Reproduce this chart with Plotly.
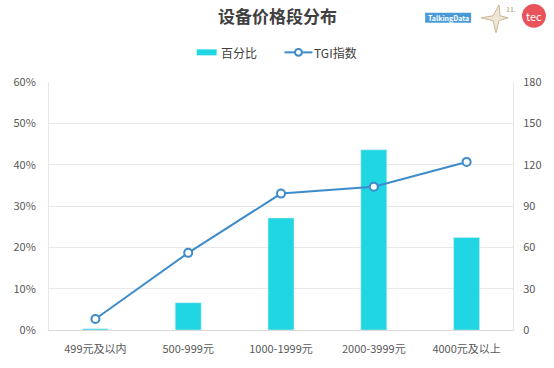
import plotly.graph_objects as go

categories = ["499元及以内", "500-999元", "1000-1999元", "2000-3999元", "4000元及以上"]
share_pct = [0.003, 0.066, 0.271, 0.436, 0.224]
tgi = [8, 56, 99, 104, 122]
left_ticks = [0, 0.1, 0.2, 0.3, 0.4, 0.5, 0.6]
right_ticks = [0, 30, 60, 90, 120, 150, 180]

W, H = 554, 368
L, R, T, B = 49, 40, 82, 35
PW, PH = W - L - R, H - T - B

def px(x):
    return (x - L) / PW

def py(y):
    return (H - B - y) / PH

BAR_C = "#1fd6e2"
LINE_C = "#3d8bcb"
FONT = "Noto Sans CJK SC, Noto Sans, sans-serif"

fig = go.Figure()
fig.add_trace(go.Bar(x=categories, y=share_pct, name="百分比", marker_color=BAR_C,
                     width=0.28, yaxis="y"))
fig.add_trace(go.Scatter(x=categories, y=tgi, name="TGI指数", mode="lines+markers",
                         line=dict(color=LINE_C, width=2),
                         marker=dict(symbol="circle", size=8, color="white",
                                     line=dict(color=LINE_C, width=2)),
                         yaxis="y2"))

shapes = []
annotations = []
# custom legend
shapes.append(dict(type="rect", xref="paper", yref="paper",
                   x0=px(197), x1=px(217), y0=py(55), y1=py(49),
                   fillcolor=BAR_C, line=dict(width=0)))
annotations.append(dict(text="百分比", xref="paper", yref="paper", x=px(219), y=py(52),
                        xanchor="left", yanchor="middle", showarrow=False,
                        font=dict(size=12, color="#404040", family=FONT)))
shapes.append(dict(type="line", xref="paper", yref="paper",
                   x0=px(285), x1=px(313), y0=py(52), y1=py(52),
                   line=dict(color=LINE_C, width=2)))
shapes.append(dict(type="circle", xref="paper", yref="paper",
                   x0=px(295.5), x1=px(302.5), y0=py(55.5), y1=py(48.5),
                   fillcolor="white", line=dict(color=LINE_C, width=2)))
annotations.append(dict(text="TGI指数", xref="paper", yref="paper", x=px(313), y=py(52),
                        xanchor="left", yanchor="middle", showarrow=False,
                        font=dict(size=12, color="#404040", family=FONT)))
# title
annotations.append(dict(text="<b>设备价格段分布</b>", xref="paper", yref="paper",
                        x=px(278), y=py(15), xanchor="center", yanchor="middle",
                        showarrow=False,
                        font=dict(size=17, color="#404040", family=FONT)))
# logos
shapes.append(dict(type="rect", xref="paper", yref="paper",
                   x0=px(426), x1=px(472), y0=py(22), y1=py(12),
                   fillcolor="#4a9ad8", line=dict(width=0)))
annotations.append(dict(text="<b>TalkingData</b>", xref="paper", yref="paper",
                        x=px(449), y=py(17), xanchor="center", yanchor="middle",
                        showarrow=False, font=dict(size=7, color="white", family=FONT)))
shapes.append(dict(type="circle", xref="paper", yref="paper",
                   x0=px(523), x1=px(547), y0=py(27), y1=py(3),
                   fillcolor="#e8545a", line=dict(width=0)))
annotations.append(dict(text="tec", xref="paper", yref="paper",
                        x=px(535), y=py(15), xanchor="center", yanchor="middle",
                        showarrow=False, font=dict(size=11, color="white", family=FONT)))
# award star (approximate)
def pp(x, y):
    return f"{px(x):.4f},{py(y):.4f}"
shapes.append(dict(type="path", xref="paper", yref="paper",
                   path="M " + pp(482, 17) + " L " + pp(494, 15) + " L " + pp(500, 4)
                        + " L " + pp(501, 15) + " L " + pp(509, 17) + " L " + pp(500, 20)
                        + " L " + pp(497, 32) + " L " + pp(494, 20) + " Z",
                   fillcolor="#efe6d6", line=dict(color="#c8b898", width=1)))
annotations.append(dict(text="11.", xref="paper", yref="paper", x=px(505), y=py(8),
                        xanchor="left", yanchor="middle", showarrow=False,
                        font=dict(size=7, color="#a89878", family=FONT)))

fig.update_layout(
    width=W, height=H,
    margin=dict(l=L, r=R, t=T, b=B, pad=0),
    paper_bgcolor="white", plot_bgcolor="white",
    showlegend=False,
    font=dict(family=FONT, size=11, color="#595959"),
    shapes=shapes, annotations=annotations,
    xaxis=dict(showgrid=False, showline=True, linecolor="#d9d9d9", linewidth=1,
               ticks="outside", ticklen=9, tickcolor="rgba(0,0,0,0)",
               tickfont=dict(size=11, color="#595959", family=FONT)),
    yaxis=dict(range=[0, 0.6], tickvals=left_ticks, tickformat=".0%",
               showgrid=True, gridcolor="#e8e8e8", gridwidth=1,
               showline=True, linecolor="#e8e8e8", zeroline=False,
               ticks="outside", ticklen=10, tickcolor="rgba(0,0,0,0)",
               tickfont=dict(size=11, color="#595959", family=FONT)),
    yaxis2=dict(range=[0, 180], tickvals=right_ticks, overlaying="y", side="right",
                showgrid=False, showline=True, linecolor="#e8e8e8", zeroline=False,
                ticks="outside", ticklen=7, tickcolor="rgba(0,0,0,0)",
                tickfont=dict(size=11, color="#595959", family=FONT)),
)

fig.write_html("out.html", config={"displayModeBar": False},
               post_script="document.body.style.margin='0';")
